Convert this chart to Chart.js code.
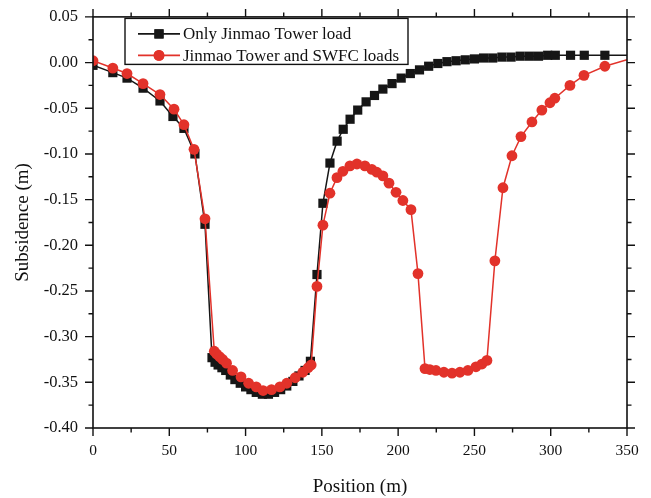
<!DOCTYPE html>
<html>
<head>
<meta charset="utf-8">
<script src="https://cdn.jsdelivr.net/npm/chart.js@4/dist/chart.umd.min.js"></script>
<style>
    html, body { margin: 0; padding: 0; background: #fff; }
    #wrap { width: 651px; height: 498px; }
</style>
</head>
<body>
<div id="wrap"><canvas id="subsidenceChart" width="651" height="498"></canvas></div>
<script>
// Only Jinmao Tower load
const jinmaoX = [0, 13, 22.3, 32.8, 43.9, 52.4, 59.6, 66.8, 73.4,
    78, 80, 82, 84.5, 87, 90, 93, 96.5, 100, 103.5, 107, 111, 115, 119, 123, 127, 131, 135, 139, 142.5,
    146.8, 150.7, 155.3, 160, 164, 168.5, 173.5, 179, 184.5, 190, 196, 202, 208, 214, 220, 226, 232,
    238, 244, 250, 256, 262, 268, 274, 280, 286, 292, 298, 303, 313, 322, 335.5, 350];
const jinmaoY = [-0.003, -0.011, -0.017, -0.028, -0.042, -0.059, -0.072, -0.100, -0.177,
    -0.323, -0.328, -0.331, -0.334, -0.337, -0.342, -0.347, -0.351, -0.355, -0.358, -0.361, -0.363, -0.363, -0.361, -0.358, -0.354, -0.349, -0.343, -0.337, -0.327,
    -0.232, -0.154, -0.110, -0.086, -0.073, -0.062, -0.052, -0.043, -0.036, -0.029, -0.023, -0.017, -0.012, -0.008, -0.004, -0.001, 0.001,
    0.002, 0.003, 0.004, 0.005, 0.005, 0.006, 0.006, 0.007, 0.007, 0.007, 0.008, 0.008, 0.008, 0.008, 0.008, 0.008];

// Jinmao Tower and SWFC loads
const swfcX = [0, 13, 22.3, 32.8, 43.9, 53.1, 59.6, 66.2, 73.4,
    79.5, 81, 83, 85, 87.5, 91.5, 97, 102, 107, 111.5, 117, 122.5, 127, 132.5, 137.5, 141, 143,
    146.8, 150.7, 155.3, 159.9, 163.8, 168.4, 173, 178.2, 182.8, 186, 190, 194, 198.6, 203.1, 208.4, 213,
    217.6, 220.8, 224.8, 230, 235.3, 240.5, 245.7, 251, 254.9, 258.2,
    263.4, 268.7, 274.6, 280.5, 287.7, 294.2, 299.5, 302.7, 312.6, 321.8, 335.5, 350];
const swfcY = [0.002, -0.006, -0.012, -0.023, -0.035, -0.051, -0.068, -0.095, -0.171,
    -0.316, -0.319, -0.322, -0.325, -0.329, -0.337, -0.344, -0.351, -0.355, -0.359, -0.358, -0.355, -0.351, -0.345, -0.339, -0.334, -0.331,
    -0.245, -0.178, -0.143, -0.126, -0.119, -0.113, -0.111, -0.113, -0.117, -0.120, -0.124, -0.132, -0.142, -0.151, -0.161, -0.231,
    -0.335, -0.336, -0.337, -0.339, -0.340, -0.339, -0.337, -0.333, -0.330, -0.326,
    -0.217, -0.137, -0.102, -0.081, -0.065, -0.052, -0.044, -0.039, -0.025, -0.014, -0.004, 0.003];

const seriesLabels = ['Only Jinmao Tower load', 'Jinmao Tower and SWFC loads'];
const xTickValues = [0, 50, 100, 150, 200, 250, 300, 350];
const yTickValues = [0.05, 0.00, -0.05, -0.10, -0.15, -0.20, -0.25, -0.30, -0.35, -0.40];

const BLACK = '#161616';
const RED = '#e2322a';
const SERIF = "'Liberation Serif', 'Times New Roman', serif";

function toPoints(xs, ys) {
    return xs.map((x, i) => ({ x: x, y: ys[i] }));
}

// no marker on the end point that sits on the right frame
function markerSize(r) {
    return ctx => (ctx.raw && ctx.raw.x >= 350 ? 0 : r);
}

// box frame with major/minor ticks pointing out on all four sides
const frameTicks = {
    id: 'frameTicks',
    afterDatasetsDraw(chart) {
        const { ctx, chartArea: a, scales: { x, y } } = chart;
        ctx.save();
        ctx.strokeStyle = '#111';
        ctx.lineWidth = 1.6;
        ctx.strokeRect(a.left, a.top, a.right - a.left, a.bottom - a.top);
        ctx.lineWidth = 1.4;
        ctx.beginPath();
        for (let v = 0; v <= 350; v += 25) {
            const px = x.getPixelForValue(v);
            const len = v % 50 === 0 ? 8 : 4.5;
            ctx.moveTo(px, a.bottom); ctx.lineTo(px, a.bottom + len);
            ctx.moveTo(px, a.top); ctx.lineTo(px, a.top - len);
        }
        for (let k = -16; k <= 2; k++) {
            const py = y.getPixelForValue(k * 0.025);
            const len = k % 2 === 0 ? 8 : 4.5;
            ctx.moveTo(a.left, py); ctx.lineTo(a.left - len, py);
            ctx.moveTo(a.right, py); ctx.lineTo(a.right + len, py);
        }
        ctx.stroke();
        ctx.restore();
    }
};

// legend drawn as line + marker, like the original plot
const boxLegend = {
    id: 'boxLegend',
    afterDraw(chart) {
        const { ctx, chartArea: a } = chart;
        const left = a.left + 32, top = a.top + 1.5, w = 283, h = 46;
        ctx.save();
        ctx.fillStyle = '#fff';
        ctx.fillRect(left, top, w, h);
        ctx.strokeStyle = '#111';
        ctx.lineWidth = 1.4;
        ctx.strokeRect(left, top, w, h);

        const rows = [
            { y: top + 15.5, color: BLACK, style: 'rect', r: 6.5, text: seriesLabels[0] },
            { y: top + 37, color: RED, style: 'circle', r: 5.4, text: seriesLabels[1] }
        ];
        rows.forEach(row => {
            ctx.strokeStyle = row.color;
            ctx.lineWidth = 1.6;
            ctx.beginPath();
            ctx.moveTo(left + 13, row.y);
            ctx.lineTo(left + 55, row.y);
            ctx.stroke();
            ctx.fillStyle = row.color;
            Chart.helpers.drawPoint(ctx, { pointStyle: row.style, radius: row.r, borderWidth: 0 }, left + 34, row.y);
            ctx.fill();
            ctx.fillStyle = '#111';
            ctx.font = '17px ' + SERIF;
            ctx.textBaseline = 'middle';
            ctx.textAlign = 'left';
            ctx.fillText(row.text, left + 58, row.y + 1);
        });
        ctx.restore();
    }
};

const chartCtx = document.getElementById('subsidenceChart').getContext('2d');

new Chart(chartCtx, {
    type: 'line',
    data: {
        datasets: [{
            label: seriesLabels[1],
            data: toPoints(swfcX, swfcY),
            borderColor: RED,
            backgroundColor: RED,
            borderWidth: 1.5,
            pointStyle: 'circle',
            pointRadius: markerSize(5.4),
            pointBorderWidth: 0,
            tension: 0,
            order: 0
        }, {
            label: seriesLabels[0],
            data: toPoints(jinmaoX, jinmaoY),
            borderColor: BLACK,
            backgroundColor: BLACK,
            borderWidth: 1.5,
            pointStyle: 'rect',
            pointRadius: markerSize(6.5),
            pointBorderWidth: 0,
            tension: 0,
            order: 1
        }]
    },
    options: {
        responsive: false,
        animation: false,
        devicePixelRatio: 1,
        layout: { padding: { top: 15, right: 24, left: 0, bottom: 0 } },
        plugins: {
            legend: { display: false },
            tooltip: { enabled: false }
        },
        scales: {
            x: {
                type: 'linear',
                min: 0,
                max: 350,
                afterBuildTicks: scale => {
                    scale.ticks = xTickValues.map(v => ({ value: v }));
                },
                afterFit: scale => { scale.height = 70; },
                grid: { display: false, drawTicks: true, tickLength: 8 },
                border: { display: false },
                ticks: {
                    autoSkip: false,
                    maxRotation: 0,
                    padding: 6,
                    color: '#111',
                    font: { family: SERIF, size: 15.5 },
                    callback: v => String(v)
                },
                title: {
                    display: true,
                    text: 'Position (m)',
                    color: '#111',
                    font: { family: SERIF, size: 19 },
                    padding: { top: 0, bottom: 0 }
                }
            },
            y: {
                type: 'linear',
                min: -0.40,
                max: 0.05,
                afterBuildTicks: scale => {
                    scale.ticks = yTickValues.map(v => ({ value: v }));
                },
                afterFit: scale => { scale.width = 93; },
                grid: { display: false, drawTicks: true, tickLength: 8 },
                border: { display: false },
                ticks: {
                    autoSkip: false,
                    padding: 7,
                    color: '#111',
                    font: { family: SERIF, size: 16.5 },
                    callback: v => v.toFixed(2)
                },
                title: {
                    display: true,
                    text: 'Subsidence (m)',
                    color: '#111',
                    font: { family: SERIF, size: 19 },
                    padding: { top: 12, bottom: 0 }
                }
            }
        }
    },
    plugins: [frameTicks, boxLegend]
});
</script>
</body>
</html>
